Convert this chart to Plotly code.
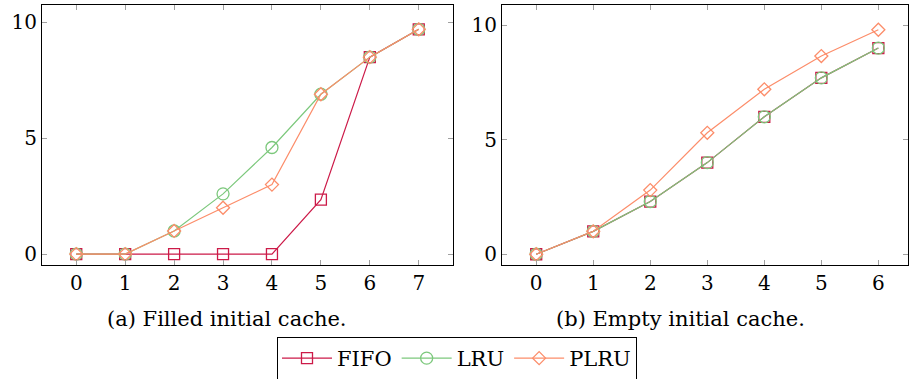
import plotly.graph_objects as go

# Data
x_filled = [0, 1, 2, 3, 4, 5, 6, 7]
fifo_filled = [0, 0, 0, 0, 0, 2.35, 8.5, 9.7]
lru_filled = [0, 0, 1.0, 2.6, 4.6, 6.9, 8.5, 9.7]
plru_filled = [0, 0, 1.0, 2.0, 3.0, 6.9, 8.5, 9.7]

x_empty = [0, 1, 2, 3, 4, 5, 6]
fifo_empty = [0, 1.0, 2.3, 4.0, 6.0, 7.7, 9.0]
lru_empty = [0, 1.0, 2.3, 4.0, 6.0, 7.7, 9.0]
plru_empty = [0, 1.0, 2.8, 5.3, 7.2, 8.65, 9.8]

yticks = [0, 5, 10]
captions = ["(a) Filled initial cache.", "(b) Empty initial cache."]

W, H = 909, 379
FONT = "DejaVu Serif"
C_FIFO = "#cc1a48"
C_LRU = "#7cc87c"
C_PLRU = "#fc8d6a"

series = [
    ("FIFO", C_FIFO, "square-open", 11),
    ("LRU", C_LRU, "circle-open", 12),
    ("PLRU", C_PLRU, "diamond-open", 10),
]

fig = go.Figure()
data_left = [fifo_filled, lru_filled, plru_filled]
data_right = [fifo_empty, lru_empty, plru_empty]
for i, (name, col, sym, sz) in enumerate(series):
    fig.add_trace(go.Scatter(x=x_filled, y=data_left[i], name=name, mode="lines+markers",
                             line=dict(color=col, width=1.2),
                             marker=dict(symbol=sym, size=sz, color=col, line=dict(width=1.3, color=col)),
                             xaxis="x", yaxis="y", showlegend=True, legendgroup=name))
for i, (name, col, sym, sz) in enumerate(series):
    fig.add_trace(go.Scatter(x=x_empty, y=data_right[i], name=name, mode="lines+markers",
                             line=dict(color=col, width=1.2),
                             marker=dict(symbol=sym, size=sz, color=col, line=dict(width=1.3, color=col)),
                             xaxis="x2", yaxis="y2", showlegend=False, legendgroup=name))

ml, mr, mt, mb = 0, 1, 5, 114
pw = W - ml - mr
ph = H - mt - mb
def dx(px):
    return (px - ml) / pw
def dy(py):
    return (H - mb - py) / ph

axis_common = dict(showline=True, linecolor="black", linewidth=1, mirror="ticks",
                   ticks="inside", ticklen=5, tickcolor="#a0a0a0", tickwidth=1,
                   showgrid=False, zeroline=False,
                   tickfont=dict(family=FONT, size=20, color="black"))

fig.update_layout(
    width=W, height=H,
    margin=dict(l=ml, r=mr, t=mt, b=mb, autoexpand=False),
    paper_bgcolor="white", plot_bgcolor="white",
    font=dict(family=FONT, size=20, color="black"),
    xaxis=dict(domain=[dx(42), dx(453)], range=[-0.7, 7.7], tickvals=x_filled, anchor="y", **axis_common),
    yaxis=dict(domain=[0, 1], range=[-0.47, 10.75], tickvals=yticks, anchor="x", **axis_common),
    xaxis2=dict(domain=[dx(502), 1.0], range=[-0.6, 6.52], tickvals=x_empty, anchor="y2", **axis_common),
    yaxis2=dict(domain=[0, 1], range=[-0.47, 10.88], tickvals=yticks, anchor="x2", **axis_common),
    legend=dict(orientation="h", x=dx(457), xanchor="center", y=dy(337),
                yanchor="top", bordercolor="black", borderwidth=1, bgcolor="white",
                font=dict(family=FONT, size=21), itemwidth=50, tracegroupgap=0),
    annotations=[
        dict(text=captions[0], x=dx(227), y=dy(319), xref="paper", yref="paper",
             xanchor="center", yanchor="middle", showarrow=False, font=dict(family=FONT, size=21)),
        dict(text=captions[1], x=dx(680), y=dy(319), xref="paper", yref="paper",
             xanchor="center", yanchor="middle", showarrow=False, font=dict(family=FONT, size=21)),
    ],
)
fig.write_html("out.html", config={"displayModeBar": False},
               post_script="document.body.style.margin='0';document.body.style.padding='0';")
